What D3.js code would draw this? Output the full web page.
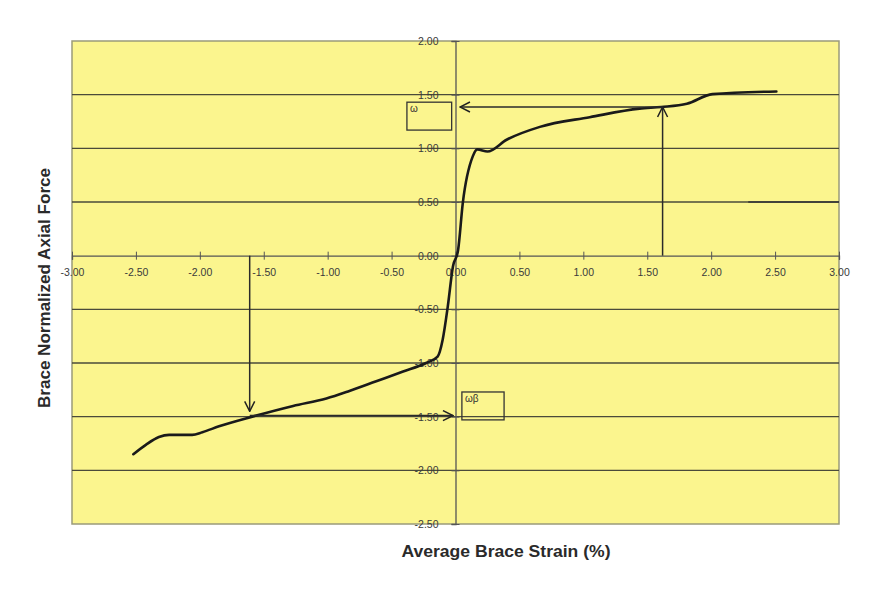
<!DOCTYPE html>
<html>
<head>
<meta charset="utf-8">
<script src="https://cdn.jsdelivr.net/npm/d3@7/dist/d3.min.js"></script>
<style>
  body { margin: 0; background: #fff; }
  .tick text { font-family: Arial, "Liberation Sans", sans-serif; font-size: 10.5px; fill: #3a3a3a; }
  .title { font-family: Arial, "Liberation Sans", sans-serif; font-size: 16px; font-weight: bold; fill: #2a2a2a; }
</style>
</head>
<body>
<div class="svg-container"></div>
<script>
var width = 877;
var height = 590;

var plot = { "left": 72, "right": 839, "top": 41, "bottom": 524 };

// brace response curve (strain %, normalized force)
var strain = [-2.52, -2.42, -2.32, -2.24, -2.06, -1.98, -1.85, -1.59, -1.27, -1.01, -0.83, -0.62, -0.41, -0.23, -0.14,
              -0.10, -0.06, -0.02, 0.02, 0.057, 0.135, 0.17, 0.25, 0.40, 0.66, 1.05, 1.44, 1.61, 1.81, 2.01, 2.51];
var force = [-1.85, -1.76, -1.69, -1.67, -1.67, -1.645, -1.59, -1.50, -1.40, -1.33, -1.26, -1.17, -1.08, -1.00, -0.94,
             -0.78, -0.47, -0.10, 0.05, 0.49, 0.925, 0.99, 0.97, 1.08, 1.20, 1.29, 1.37, 1.385, 1.415, 1.505, 1.53];

var xTicks = [-3, -2.5, -2, -1.5, -1, -0.5, 0, 0.5, 1, 1.5, 2, 2.5, 3];
var yTicks = [-2.5, -2, -1.5, -1, -0.5, 0, 0.5, 1, 1.5, 2];

// arrows: [x1, y1, x2, y2] in data units, head at the second point
var arrows = [
  [1.62, 0, 1.62, 1.385],
  [1.62, 1.385, 0.035, 1.385],
  [-1.61, 0, -1.61, -1.45],
  [-1.61, -1.49, -0.02, -1.49]
];

// labelled boxes: [x0, y0, x1, y1, text]
var boxes = [
  [-0.38, 1.43, -0.03, 1.17, "ω"],
  [0.05, -1.27, 0.38, -1.53, "ωβ"]
];

var fmt = function(d) { return d.toFixed(2); };

var svg = d3.select(".svg-container")
            .append("svg")
            .attr("width", width)
            .attr("height", height);

var defs = svg.append("defs");
defs.append("marker")
    .attr("id", "head")
    .attr("viewBox", "0 0 12 12")
    .attr("refX", 11)
    .attr("refY", 6)
    .attr("markerWidth", 12)
    .attr("markerHeight", 12)
    .attr("markerUnits", "userSpaceOnUse")
    .attr("orient", "auto")
    .append("path")
    .attr("d", "M1,1 L11,6 L1,11")
    .attr("fill", "none")
    .attr("stroke", "#222")
    .attr("stroke-width", 1.5);

var scaleX = d3.scaleLinear().domain([-3, 3]).range([plot.left, plot.right]);
var scaleY = d3.scaleLinear().domain([-2.5, 2]).range([plot.bottom, plot.top]);

// plot background
svg.append("rect")
   .attr("x", plot.left)
   .attr("y", plot.top)
   .attr("width", plot.right - plot.left)
   .attr("height", plot.bottom - plot.top)
   .attr("fill", "#fbf58e")
   .attr("stroke", "#9a9a7a")
   .attr("stroke-width", 1.5);

// horizontal gridlines
svg.append("g")
   .selectAll("line")
   .data(yTicks.filter(function(d) { return d !== 2 && d !== -2.5 && d !== 0; }))
   .enter()
   .append("line")
   .attr("x1", plot.left)
   .attr("x2", plot.right)
   .attr("y1", function(d) { return scaleY(d); })
   .attr("y2", function(d) { return scaleY(d); })
   .attr("stroke", "#4a4a3a")
   .attr("stroke-width", 1.3);

// darker stub on 0.50 gridline at right
svg.append("line")
   .attr("x1", scaleX(2.29))
   .attr("x2", plot.right)
   .attr("y1", scaleY(0.5))
   .attr("y2", scaleY(0.5))
   .attr("stroke", "#333")
   .attr("stroke-width", 1.6);

// x axis through y = 0
var xAxis = svg.append("g")
   .attr("transform", "translate(0," + scaleY(0) + ")")
   .call(d3.axisBottom(scaleX)
           .tickValues(xTicks)
           .tickSize(4)
           .tickPadding(9)
           .tickFormat(fmt));
xAxis.selectAll(".tick line").attr("y1", -4).attr("stroke", "#555");
xAxis.select(".domain").attr("stroke", "#555").attr("stroke-width", 1.3);

// y axis through x = 0
var yAxis = svg.append("g")
   .attr("transform", "translate(" + scaleX(0) + ",0)")
   .call(d3.axisLeft(scaleY)
           .tickValues(yTicks)
           .tickSize(4)
           .tickPadding(13)
           .tickFormat(fmt));
yAxis.selectAll(".tick line").attr("x1", 4).attr("stroke", "#555");
yAxis.select(".domain").attr("stroke", "#555").attr("stroke-width", 1.3);

// response curve
var points = strain.map(function(s, i) { return { x: s, y: force[i] }; });
var valueline = d3.line()
                  .x(function(d) { return scaleX(d.x); })
                  .y(function(d) { return scaleY(d.y); })
                  .curve(d3.curveMonotoneX);

svg.append("path")
   .datum(points)
   .attr("fill", "none")
   .attr("stroke", "#1a1a1a")
   .attr("stroke-width", 2.6)
   .attr("stroke-linejoin", "round")
   .attr("stroke-linecap", "round")
   .attr("d", valueline);

// arrows
svg.append("g")
   .selectAll("line")
   .data(arrows)
   .enter()
   .append("line")
   .attr("x1", function(d) { return scaleX(d[0]); })
   .attr("y1", function(d) { return scaleY(d[1]); })
   .attr("x2", function(d) { return scaleX(d[2]); })
   .attr("y2", function(d) { return scaleY(d[3]); })
   .attr("stroke", "#2a2a2a")
   .attr("stroke-width", 1.5)
   .attr("marker-end", "url(#head)");

// boxes with greek labels
var box = svg.append("g")
   .selectAll("g")
   .data(boxes)
   .enter()
   .append("g");

box.append("rect")
   .attr("x", function(d) { return scaleX(d[0]); })
   .attr("y", function(d) { return scaleY(d[1]); })
   .attr("width", function(d) { return scaleX(d[2]) - scaleX(d[0]); })
   .attr("height", function(d) { return scaleY(d[3]) - scaleY(d[1]); })
   .attr("fill", "none")
   .attr("stroke", "#333")
   .attr("stroke-width", 1.3);

box.append("text")
   .attr("x", function(d) { return scaleX(d[0]) + 3; })
   .attr("y", function(d) { return scaleY(d[1]) + 10; })
   .attr("font-family", "Arial, sans-serif")
   .attr("font-size", "10px")
   .attr("fill", "#333")
   .text(function(d) { return d[4]; });

// axis titles
svg.append("text")
   .attr("class", "title")
   .attr("x", 506)
   .attr("y", 557)
   .attr("text-anchor", "middle")
   .attr("textLength", 209)
   .attr("lengthAdjust", "spacingAndGlyphs")
   .text("Average Brace Strain (%)");

svg.append("text")
   .attr("class", "title")
   .attr("transform", "translate(50,288) rotate(270)")
   .attr("text-anchor", "middle")
   .attr("textLength", 240)
   .attr("lengthAdjust", "spacingAndGlyphs")
   .text("Brace Normalized Axial Force");
</script>
</body>
</html>
